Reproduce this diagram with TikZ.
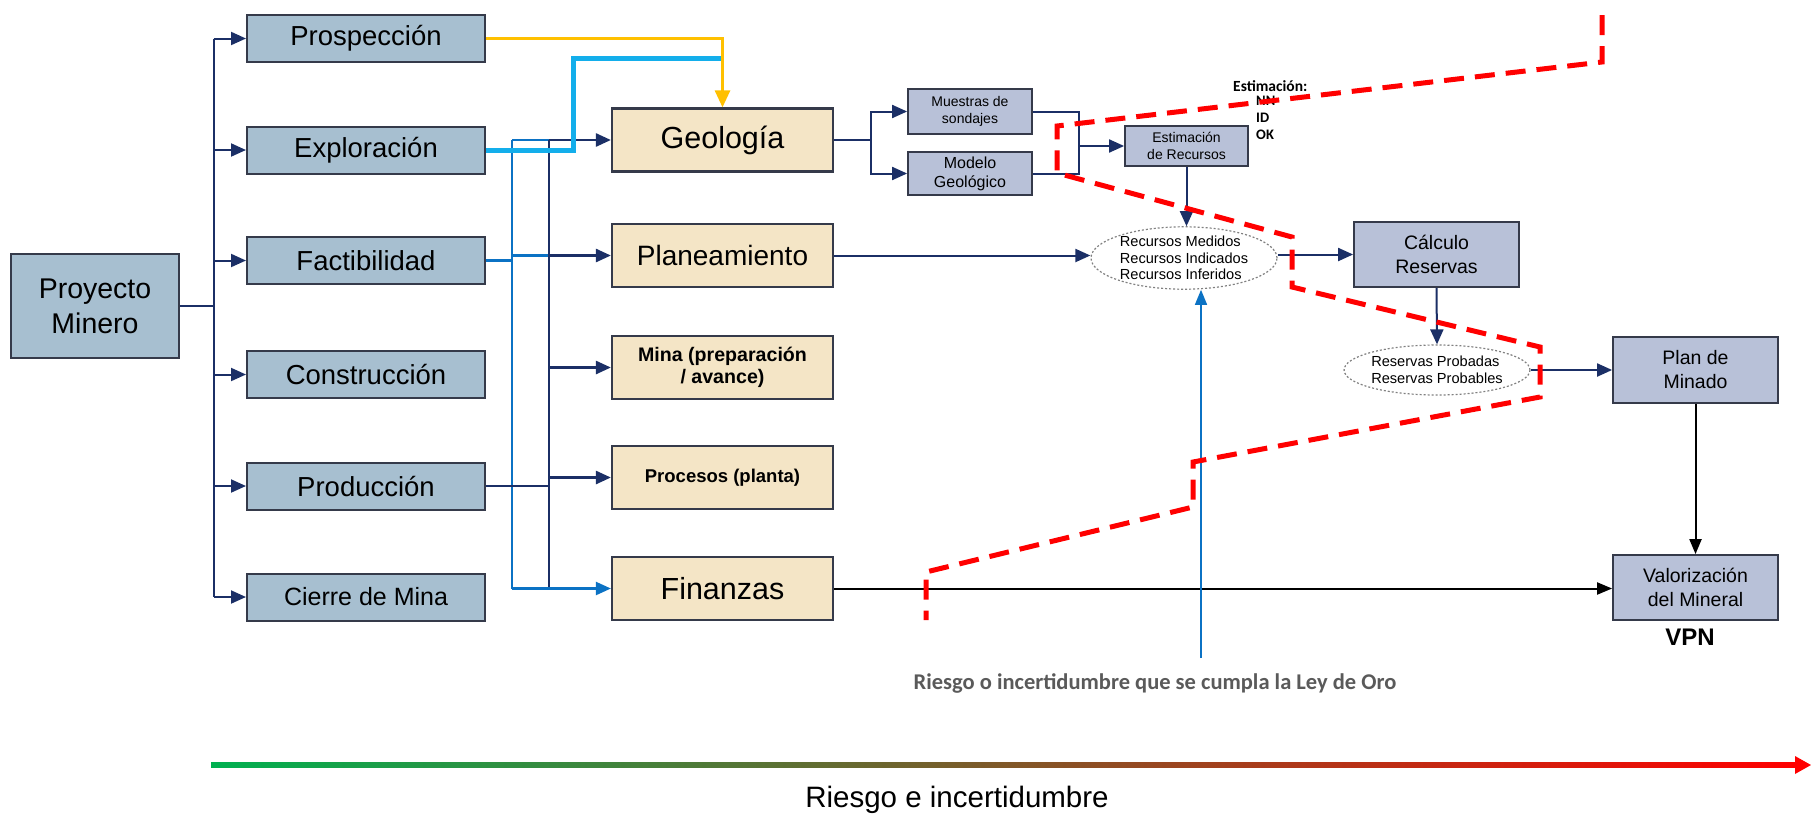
\documentclass[tikz,border=0pt]{standalone}
\usepackage{fontspec}
\setmainfont{Liberation Sans}
\newfontfamily\notefont{Carlito}
\usetikzlibrary{arrows.meta,shapes.geometric}

\definecolor{stageFill}{HTML}{A7BFD0}
\definecolor{areaFill}{HTML}{F4E5C6}
\definecolor{stepFill}{HTML}{B8C1D8}
\definecolor{boxEdge}{HTML}{353A4A}
\definecolor{navyLine}{HTML}{1B2F66}
\definecolor{blueLine}{HTML}{0B72C4}
\definecolor{cyanLine}{HTML}{13AEEB}
\definecolor{goldLine}{HTML}{FFC000}
\definecolor{noteGrey}{HTML}{5A5A5A}
\definecolor{riskGreen}{HTML}{00B050}
\definecolor{riskOrange}{HTML}{E0802C}

\newcommand{\trunkX}{213.5}
\newcommand{\stageX}{366}
\newcommand{\areaX}{722.5}
\newcommand{\blueTrunkX}{512}
\newcommand{\navyTrunkX}{549}
\newcommand{\splitX}{870.5}
\newcommand{\joinX}{1078.6}
\newcommand{\linkWidth}{2.6pt}
\newcommand{\thinWidth}{2pt}

\tikzset{
  stagebox/.style={draw=boxEdge, line width=2pt, fill=stageFill, minimum width=238pt,
    minimum height=47pt, inner sep=0pt, font=\fontsize{27.5}{30}\selectfont},
  areabox/.style={draw=boxEdge, line width=2.2pt, fill=areaFill, minimum width=221pt,
    minimum height=63pt, inner sep=0pt, align=center},
  stepbox/.style={draw=boxEdge, line width=1.8pt, fill=stepFill, inner sep=0pt, align=center},
  classset/.style={ellipse, draw=gray, dash pattern=on 2pt off 2pt, line width=1.2pt,
    inner sep=0pt, align=left, font=\fontsize{14.6}{16.7}\selectfont},
  navyline/.style={navyLine, line width=\linkWidth},
  navyarrow/.style={navyline, -{Triangle[length=15pt,width=13pt]}},
  navythin/.style={navyLine, line width=\thinWidth},
  navythinarrow/.style={navythin, -{Triangle[length=15pt,width=13pt]}},
  blueline/.style={blueLine, line width=2.2pt},
  bluearrow/.style={blueline, -{Triangle[length=15pt,width=13pt]}},
  cyanline/.style={cyanLine, line width=5pt},
  goldarrow/.style={goldLine, line width=2.8pt, -{Triangle[length=17pt,width=15pt]}},
  blackarrow/.style={black, line width=2pt, -{Triangle[length=15pt,width=12pt]}},
  riskedge/.style={red, line width=5pt, dash pattern=on 20pt off 11pt}
}

\begin{document}
\begin{tikzpicture}[x=1pt,y=-1pt]
  \useasboundingbox (0,0) rectangle (1811,820);

  % Project and stages
  \node[stagebox, minimum width=168pt, minimum height=104pt, align=center,
    font=\fontsize{28.5}{35}\selectfont] (proy) at (95,306) {Proyecto\\Minero};
  \node[stagebox] (pros) at (\stageX,38.5) {Prospección};
  \node[stagebox] (expl) at (\stageX,150) {Exploración};
  \node[stagebox] (fact) at (\stageX,260.5) {Factibilidad};
  \node[stagebox] (cons) at (\stageX,374.5) {Construcción};
  \node[stagebox] (prod) at (\stageX,486) {Producción};
  \node[stagebox, font=\fontsize{25}{30}\selectfont] (cier) at (\stageX,597) {Cierre de Mina};

  % Areas
  \node[areabox, font=\fontsize{30.5}{34}\selectfont] (geo) at (\areaX,140) {Geología};
  \node[areabox, font=\fontsize{28}{32}\selectfont] (plan) at (\areaX,255.5) {Planeamiento};
  \node[areabox, font=\bfseries\fontsize{19.6}{22.5}\selectfont] (mina) at (\areaX,367.5) {Mina (preparación\\ / avance)};
  \node[areabox, font=\bfseries\fontsize{18.5}{22}\selectfont] (proc) at (\areaX,477.5) {Procesos (planta)};
  \node[areabox, font=\fontsize{30.5}{34}\selectfont] (fin) at (\areaX,588.5) {Finanzas};

  % Resource chain
  \node[stepbox, minimum width=124pt, minimum height=45pt, font=\fontsize{14}{16.7}\selectfont] (mue) at (970,111.5) {Muestras de\\sondajes};
  \node[stepbox, minimum width=124pt, minimum height=43pt, font=\fontsize{16}{19}\selectfont] (mod) at (970,173.5) {Modelo\\Geológico};
  \node[stepbox, minimum width=123pt, minimum height=40pt, font=\fontsize{14}{16.5}\selectfont] (est) at (1186.5,146) {Estimación\\de Recursos};
  \node[classset, minimum width=186pt, minimum height=58pt] (recu) at (1184,258) {Recursos Medidos\\Recursos Indicados\\Recursos Inferidos};
  \node[stepbox, minimum width=165pt, minimum height=65pt, font=\fontsize{19.5}{24}\selectfont] (calc) at (1436.5,254.5) {Cálculo\\Reservas};
  \node[classset, minimum width=184pt, minimum height=50pt] (res) at (1437,370) {Reservas Probadas\\Reservas Probables};
  \node[stepbox, minimum width=165pt, minimum height=66pt, font=\fontsize{19.5}{24}\selectfont] (plmin) at (1695.5,370) {Plan de\\Minado};
  \node[stepbox, minimum width=165pt, minimum height=65pt, font=\fontsize{19.5}{24}\selectfont] (val) at (1695.5,587.5) {Valorización\\del Mineral};
  \node[font=\bfseries\fontsize{24}{28}\selectfont] (vpn) at (1690,637) {VPN};

  % Estimation methods
  \node[anchor=west, inner sep=0pt, font=\notefont\bfseries\fontsize{15.5}{16}\selectfont] (estTitle) at (1233,86) {Estimación:};
  \node[anchor=north west, inner sep=0pt, align=left, font=\notefont\bfseries\fontsize{14.5}{17}\selectfont] (estList) at (1256,96) {NN\\ID\\OK};

  % Notes
  \node[text=noteGrey, font=\notefont\bfseries\fontsize{22.5}{26}\selectfont] (leyNote) at (1155,683) {Riesgo o incertidumbre que se cumpla la Ley de Oro};
  \node[font=\fontsize{29.5}{32}\selectfont] (riskLabel) at (957,800) {Riesgo e incertidumbre};

  % Draw stage links
  \coordinate (trunk) at (\trunkX,0);
  \draw[navythin] (proy.east) -- (trunk |- proy.east);
  \draw[navythin] (trunk |- pros.west) -- (trunk |- cier.west);
  \draw[navythinarrow] (trunk |- pros.west) -- (pros.west);
  \draw[navythinarrow] (trunk |- expl.west) -- (expl.west);
  \draw[navythinarrow] (trunk |- fact.west) -- (fact.west);
  \draw[navythinarrow] (trunk |- cons.west) -- (cons.west);
  \draw[navythinarrow] (trunk |- prod.west) -- (prod.west);
  \draw[navythinarrow] (trunk |- cier.west) -- (cier.west);

  % Draw area links
  \coordinate (bluetrunk) at (\blueTrunkX,0);
  \coordinate (navytrunk) at (\navyTrunkX,0);
  \draw[blueline] (fact.east) -- (bluetrunk |- fact.east);
  \draw[blueline] (bluetrunk |- geo.west) -- (bluetrunk |- fin.west);
  \draw[blueline] (bluetrunk |- geo.west) -- (navytrunk |- geo.west);
  \draw[blueline] (bluetrunk |- plan.west) -- (navytrunk |- plan.west);
  \draw[navyline] (prod.east) -- (navytrunk |- prod.east);
  \draw[navyline] (navytrunk |- geo.west) -- (navytrunk |- fin.west);
  \draw[navyarrow] (navytrunk |- geo.west) -- (geo.west);
  \draw[navyarrow] (navytrunk |- plan.west) -- (plan.west);
  \draw[navyarrow] (navytrunk |- mina.west) -- (mina.west);
  \draw[navyarrow] (navytrunk |- proc.west) -- (proc.west);
  \draw[bluearrow] (bluetrunk |- fin.west) -- (fin.west);

  % Draw exploration and prospection links
  \coordinate (cyanturn) at (573,58);
  \draw[cyanline] (expl.east) -| (cyanturn) -- (cyanturn -| geo.north);
  \draw[goldarrow] (pros.east) -| (geo.north);

  % Draw resource chain
  \coordinate (geosplit) at (\splitX,0);
  \coordinate (estjoin) at (\joinX,146);
  \draw[navythin] (geo.east) -- (geosplit |- geo.east);
  \draw[navythinarrow] (geosplit |- geo.east) |- (mue.west);
  \draw[navythinarrow] (geosplit |- geo.east) |- (mod.west);
  \draw[navythin] (mue.east) -| (estjoin);
  \draw[navythin] (mod.east) -| (estjoin);
  \draw[navythinarrow] (estjoin) -- (est.west);
  \draw[navythinarrow] (est.south) -- (est.south |- recu.north);
  \draw[navythinarrow] (plan.east) -- (plan.east -| recu.west);
  \draw[navythinarrow] (calc.west -| recu.east) -- (calc.west);
  \draw[navythinarrow] (calc.south) -- (res.north);
  \draw[navythinarrow] (res.east) -- (res.east -| plmin.west);
  \draw[blackarrow] (plmin.south) -- (val.north);
  \draw[blackarrow] (fin.east) -- (fin.east -| val.west);

  % Draw grade risk
  \coordinate (leyBase) at (1201,658);
  \draw[blueLine, line width=1.5pt, -{Triangle[length=15pt,width=12pt]}] (leyBase) -- (leyBase |- recu.south);
  \draw[riskedge] (1602,15) -- (1602,62) -- (1057,126) -- (1057,173) -- (1292,237) -- (1292,287)
    -- (1540,347) -- (1540,397) -- (1193,462) -- (1193,507) -- (926,572) -- (926,620);

  % Risk axis
  \coordinate (riskStart) at (211,765);
  \coordinate (riskEnd) at (1811,765);
  \shade[left color=riskGreen, middle color=riskOrange, right color=red] (211,762.5) rectangle (1796,767.5);
  \fill[red] (riskEnd) -- (1795,756) -- (1795,774) -- cycle;
\end{tikzpicture}
\end{document}
